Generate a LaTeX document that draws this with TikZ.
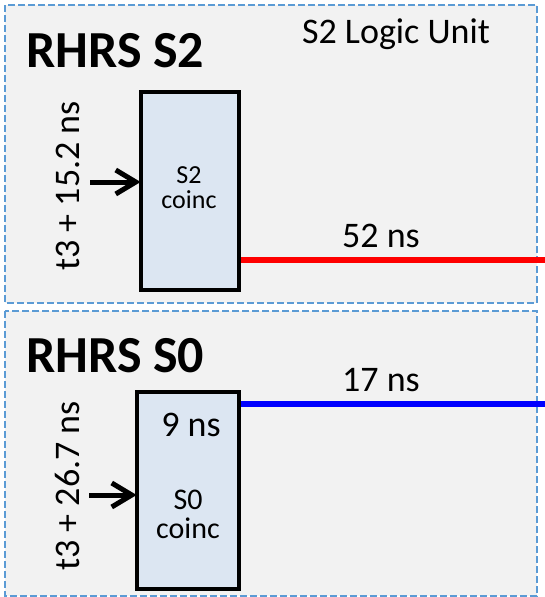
\documentclass[tikz,border=0pt]{standalone}
\usepackage{fontspec}
\setmainfont{Carlito}
\usetikzlibrary{arrows.meta}

\definecolor{panelfill}{HTML}{F2F2F2}
\definecolor{paneledge}{HTML}{5B9BD5}
\definecolor{boxfill}{HTML}{DCE6F2}
\definecolor{sigred}{HTML}{FF0000}
\definecolor{sigblue}{HTML}{0000FF}

\newcommand{\fs}[1]{\fontsize{#1}{#1}\selectfont}

\tikzset{
  panel/.style={fill=panelfill, draw=paneledge, line width=2.2pt, dash pattern=on 7pt off 3pt},
  coincbox/.style={draw=black, fill=boxfill, line width=2.8pt, inner sep=0pt},
  title/.style={font=\fs{52}\bfseries, anchor=base west, inner sep=0pt},
  label/.style={font=\fs{36}, anchor=base, inner sep=0pt},
  boxtext/.style={anchor=base, inner sep=0pt},
  timing/.style={font=\fs{36}, anchor=base, rotate=90, inner sep=0pt},
  inarrow/.style={line width=5pt, -{Straight Barb[length=20pt, width=24pt]}},
  s2wire/.style={draw=sigred, line width=5.5pt},
  s0wire/.style={draw=sigblue, line width=5.5pt}
}

\begin{document}
\begin{tikzpicture}[x=1pt, y=-1pt]
  \useasboundingbox (0,0) rectangle (545,597);

  % the two logic-unit panels
  \draw[panel] (5,5) rectangle (537,303);
  \draw[panel] (5,311) rectangle (537,596);

  % ---- RHRS S2 ----
  \node[title] (s2title) at (26,67) {RHRS S2};
  \node[label] (s2unit) at (396,43) {S2 Logic Unit};

  \coordinate (s2out) at (545,260);
  \coordinate (s2in) at (90,182);
  \node[coincbox, minimum width=96pt, minimum height=196pt] (s2box) at (190,191) {};
  \draw[s2wire] (s2box.east |- s2out) -- (s2out);
  \draw[coincbox, fill=none] (s2box.south west) rectangle (s2box.north east);

  \node[boxtext, font=\fs{26}] (s2name) at (189,183) {S2};
  \node[boxtext, font=\fs{26}] (s2coinc) at (189,208) {coinc};
  \node[label] (s2delay) at (381,247) {52 ns};
  \node[timing] (s2time) at (79,186) {t3 + 15.2 ns};
  \draw[inarrow] (s2in) -- (s2box.west |- s2in);

  % ---- RHRS S0 ----
  \node[title] (s0title) at (26,372) {RHRS S0};

  \coordinate (s0out) at (545,404);
  \coordinate (s0in) at (89,495);
  \node[coincbox, minimum width=100pt, minimum height=195pt] (s0box) at (188,490.5) {};
  \draw[s0wire] (s0box.east |- s0out) -- (s0out);
  \draw[coincbox, fill=none] (s0box.south west) rectangle (s0box.north east);

  \node[label] (s0width) at (191,436) {9 ns};
  \node[boxtext, font=\fs{30}] (s0name) at (188,509) {S0};
  \node[boxtext, font=\fs{30}] (s0coinc) at (188,538) {coinc};
  \node[label] (s0delay) at (381,391) {17 ns};
  \node[timing] (s0time) at (79,486) {t3 + 26.7 ns};
  \draw[inarrow] (s0in) -- (s0box.west |- s0in);
\end{tikzpicture}
\end{document}
